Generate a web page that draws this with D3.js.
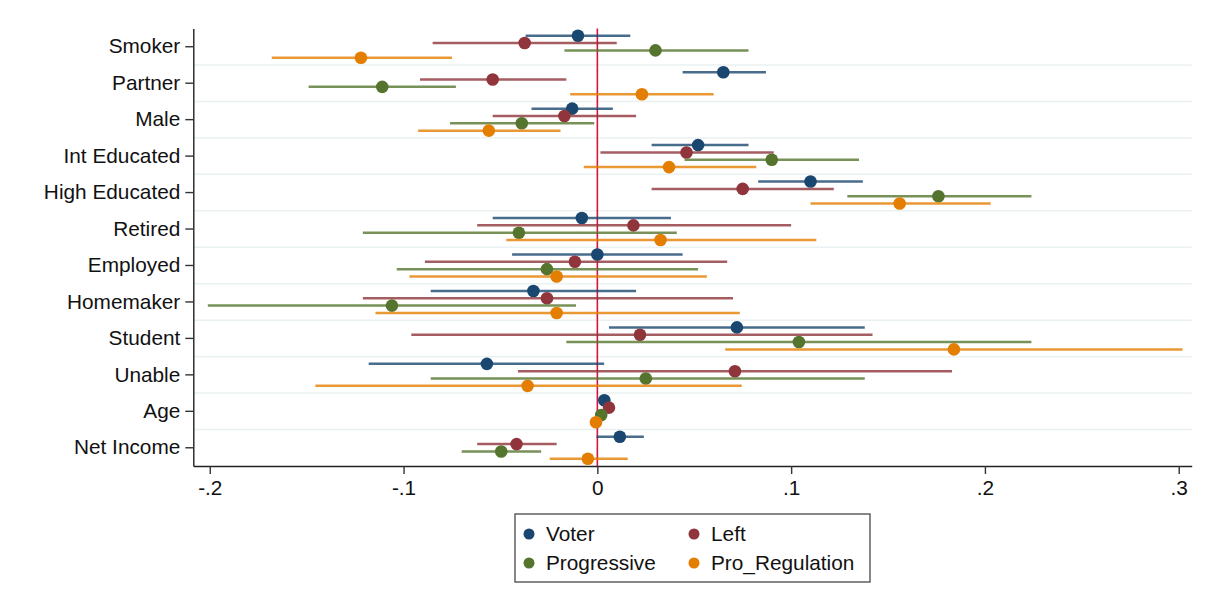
<!DOCTYPE html>
<html>
<head>
<meta charset="utf-8">
<script src="https://cdn.jsdelivr.net/npm/d3@7"></script>
<style>
  body { margin: 0; background: #fff; }
  text { font-family: "Liberation Sans", Arial, sans-serif; fill: #111; }
</style>
</head>
<body>
<div id="chart"></div>
<script>
// categories (top to bottom) and series
const categories = ["Smoker", "Partner", "Male", "Int Educated", "High Educated", "Retired",
    "Employed", "Homemaker", "Student", "Unable", "Age", "Net Income"];
const seriesNames = ["Voter", "Left", "Progressive", "Pro_Regulation"];
const xTicks = [-0.2, -0.1, 0, 0.1, 0.2, 0.3];

// point estimates and 95% CI bounds, one value per category
const voterEst = [-0.010, 0.065, -0.013, 0.052, 0.110, -0.008, 0.000, -0.033, 0.072, -0.057, 0.0036, 0.0116];
const voterLo  = [-0.037, 0.044, -0.034, 0.028, 0.083, -0.054, -0.044, -0.086, 0.006, -0.118, 0.0016, -0.0004];
const voterHi  = [0.017, 0.087, 0.008, 0.078, 0.137, 0.038, 0.044, 0.020, 0.138, 0.0035, 0.0056, 0.024];

const leftEst = [-0.0375, -0.054, -0.017, 0.046, 0.075, 0.0186, -0.0116, -0.026, 0.022, 0.071, 0.006, -0.0417];
const leftLo  = [-0.085, -0.0915, -0.054, 0.0016, 0.028, -0.062, -0.089, -0.121, -0.096, -0.041, 0.004, -0.062];
const leftHi  = [0.010, -0.016, 0.020, 0.091, 0.122, 0.100, 0.067, 0.070, 0.142, 0.183, 0.008, -0.021];

const progEst = [0.030, -0.111, -0.039, 0.090, 0.176, -0.0405, -0.026, -0.106, 0.104, 0.025, 0.002, -0.0496];
const progLo  = [-0.017, -0.149, -0.076, 0.045, 0.129, -0.121, -0.1035, -0.201, -0.016, -0.086, 0.000, -0.070];
const progHi  = [0.078, -0.073, -0.0016, 0.135, 0.224, 0.041, 0.052, -0.011, 0.224, 0.138, 0.004, -0.029];

const regEst = [-0.122, 0.023, -0.056, 0.037, 0.156, 0.0326, -0.021, -0.021, 0.184, -0.036, -0.0007, -0.0049];
const regLo  = [-0.168, -0.014, -0.0925, -0.007, 0.110, -0.047, -0.097, -0.1145, 0.066, -0.1455, -0.0027, -0.0246];
const regHi  = [-0.075, 0.060, -0.019, 0.082, 0.203, 0.113, 0.0565, 0.0735, 0.302, 0.0745, 0.0013, 0.0157];

const estimates = [voterEst, leftEst, progEst, regEst];
const lows = [voterLo, leftLo, progLo, regLo];
const highs = [voterHi, leftHi, progHi, regHi];

const W = 1211, H = 608;
const plot = { left: 193.3, right: 1191.7, top: 28.5, bottom: 466 };

const svg = d3.select("#chart").append("svg")
    .attr("width", W)
    .attr("height", H);

const xScale = d3.scaleLinear()
    .domain([-0.2085, 0.3067])
    .range([plot.left, plot.right]);

const yScale = d3.scaleBand()
    .domain(categories)
    .range([plot.top, plot.bottom]);

const offset = d3.scalePoint()
    .domain(seriesNames)
    .range([-11, 11]);

const color = d3.scaleOrdinal()
    .domain(seriesNames)
    .range(["#1a476f", "#90353b", "#55752f", "#e37e00"]);

// grid lines between categories
svg.append("g")
    .selectAll("line")
    .data(categories.slice(1))
    .enter()
    .append("line")
    .attr("x1", plot.left)
    .attr("x2", plot.right)
    .attr("y1", d => yScale(d))
    .attr("y2", d => yScale(d))
    .attr("stroke", "#eaf1f2")
    .attr("stroke-width", 1.5);

// zero reference line
svg.append("line")
    .attr("x1", xScale(0))
    .attr("x2", xScale(0))
    .attr("y1", plot.top)
    .attr("y2", plot.bottom)
    .attr("stroke", "#d4163c")
    .attr("stroke-width", 1.6);

// series: CI lines and points
seriesNames.forEach((name, s) => {
    const rows = categories.map((c, i) => ({
        cat: c, est: estimates[s][i], lo: lows[s][i], hi: highs[s][i]
    }));
    const yPos = d => yScale(d.cat) + yScale.bandwidth() / 2 + offset(name);
    const g = svg.append("g");

    g.selectAll("line")
        .data(rows)
        .enter()
        .append("line")
        .attr("x1", d => xScale(d.lo))
        .attr("x2", d => xScale(d.hi))
        .attr("y1", yPos)
        .attr("y2", yPos)
        .attr("stroke", color(name))
        .attr("stroke-opacity", 0.8)
        .attr("stroke-width", 2.5);

    g.selectAll("circle")
        .data(rows)
        .enter()
        .append("circle")
        .attr("cx", d => xScale(d.est))
        .attr("cy", yPos)
        .attr("r", 6.3)
        .attr("fill", color(name));
});

// axes (Stata style labels: no leading zero, plain hyphen)
const fmt = d => d === 0 ? "0" : d3.format(".1f")(d).replace("\u2212", "-").replace("0.", ".");

const xAxis = svg.append("g")
    .attr("transform", `translate(0, ${plot.bottom})`)
    .call(d3.axisBottom(xScale).tickValues(xTicks).tickFormat(fmt).tickSize(8).tickSizeOuter(0).tickPadding(6));

const yAxis = svg.append("g")
    .attr("transform", `translate(${plot.left}, 0)`)
    .call(d3.axisLeft(yScale).tickSize(8).tickSizeOuter(0).tickPadding(5));

[xAxis, yAxis].forEach(ax => {
    ax.select(".domain").attr("stroke", "#222").attr("stroke-width", 1.4);
    ax.selectAll(".tick line").attr("stroke", "#333").attr("stroke-width", 1.4);
    ax.selectAll(".tick text")
        .style("font-family", "'Liberation Sans', Arial, sans-serif")
        .style("font-size", "20.8px")
        .attr("fill", "#111");
});

// legend
const legend = svg.append("g").attr("transform", "translate(515, 514)");
legend.append("rect")
    .attr("width", 355)
    .attr("height", 68)
    .attr("fill", "#fff")
    .attr("stroke", "#555")
    .attr("stroke-width", 1.4);

const item = legend.selectAll("g.item")
    .data(seriesNames)
    .enter()
    .append("g")
    .attr("class", "item")
    .attr("transform", (d, i) => `translate(${i % 2 === 0 ? 14 : 179}, ${i < 2 ? 20 : 49})`);

item.append("circle")
    .attr("r", 5.5)
    .attr("fill", d => color(d));

item.append("text")
    .attr("x", 17)
    .attr("dy", "0.35em")
    .style("font-size", "20.8px")
    .text(d => d);
</script>
</body>
</html>
